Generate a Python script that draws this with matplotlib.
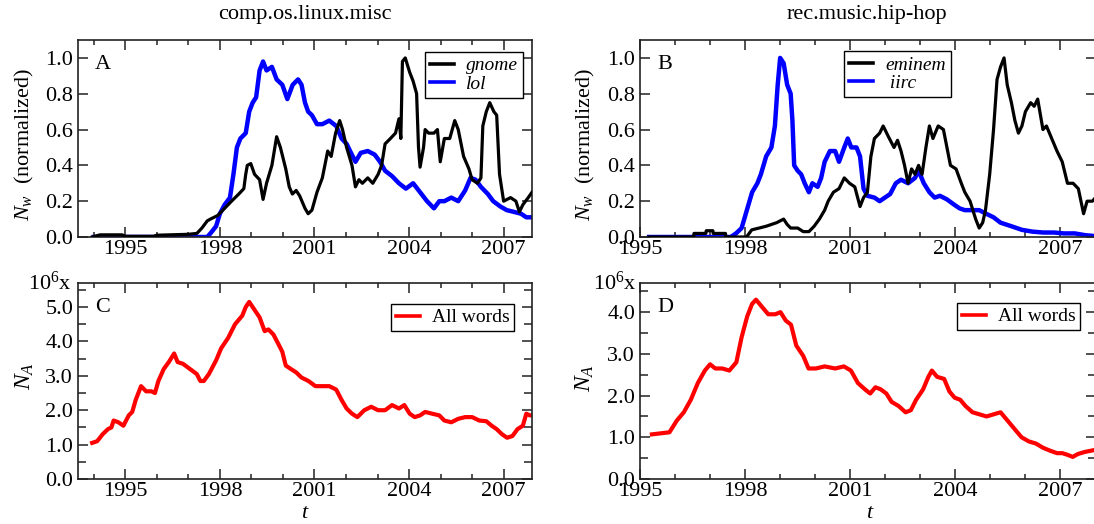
import matplotlib
matplotlib.use("Agg")
import matplotlib.pyplot as plt
from matplotlib.ticker import MultipleLocator, FixedLocator, FormatStrFormatter

plt.rcParams['font.family'] = ['Liberation Serif', 'DejaVu Serif']
plt.rcParams['mathtext.fontset'] = 'custom'
plt.rcParams['mathtext.rm'] = 'Liberation Serif'
plt.rcParams['mathtext.it'] = 'Liberation Serif:italic'

# ---------------- data ----------------
gnome_t = [1993.95, 1994.2, 1994.9, 1995.0, 1995.9, 1996.0, 1997.0, 1997.27, 1997.43, 1997.6, 1997.7,
           1997.93, 1998.15, 1998.37, 1998.6, 1998.76, 1998.82, 1998.87, 1998.98, 1999.1, 1999.26,
           1999.37, 1999.48, 1999.65, 1999.8, 1999.92, 2000.09, 2000.2, 2000.3, 2000.42, 2000.53,
           2000.7, 2000.8, 2000.92, 2001.08, 2001.25, 2001.42, 2001.53, 2001.67, 2001.8, 2001.89,
           2002.02, 2002.19, 2002.3, 2002.41, 2002.52, 2002.69, 2002.85, 2003.02, 2003.13, 2003.24,
           2003.41, 2003.57, 2003.68, 2003.74, 2003.79, 2003.88, 2004.02, 2004.13, 2004.24, 2004.3,
           2004.35, 2004.46, 2004.51, 2004.62, 2004.79, 2004.9, 2004.99, 2005.12, 2005.29, 2005.45,
           2005.56, 2005.73, 2005.9, 2006.0, 2006.17, 2006.28, 2006.34, 2006.45, 2006.56, 2006.69,
           2006.78, 2006.87, 2007.0, 2007.22, 2007.39, 2007.5, 2007.61, 2007.78, 2007.9]
gnome_v = [0.0, 0.012, 0.012, 0.004, 0.004, 0.01, 0.015, 0.02, 0.05, 0.09, 0.10,
           0.12, 0.16, 0.20, 0.24, 0.27, 0.35, 0.40, 0.41, 0.35, 0.32,
           0.21, 0.30, 0.40, 0.56, 0.50, 0.38, 0.28, 0.24, 0.26, 0.23,
           0.16, 0.13, 0.15, 0.25, 0.33, 0.48, 0.45, 0.58, 0.65, 0.60,
           0.50, 0.40, 0.28, 0.32, 0.30, 0.33, 0.30, 0.35, 0.40, 0.52,
           0.55, 0.58, 0.66, 0.55, 0.98, 1.00, 0.92, 0.87, 0.80, 0.50,
           0.39, 0.50, 0.60, 0.58, 0.58, 0.60, 0.42, 0.55, 0.55, 0.65,
           0.60, 0.45, 0.38, 0.32, 0.30, 0.33, 0.62, 0.70, 0.75, 0.70,
           0.68, 0.35, 0.20, 0.22, 0.20, 0.14, 0.18, 0.22, 0.25]

lol_t = [1994.0, 1997.6, 1997.7, 1997.88, 1998.0, 1998.15, 1998.32, 1998.43, 1998.54, 1998.65,
         1998.82, 1998.93, 1999.04, 1999.15, 1999.26, 1999.37, 1999.48, 1999.65, 1999.8, 1999.98,
         2000.14, 2000.31, 2000.48, 2000.59, 2000.7, 2000.8, 2000.92, 2001.08, 2001.25, 2001.47,
         2001.69, 2001.86, 2002.02, 2002.13, 2002.3, 2002.47, 2002.69, 2002.91, 2003.08, 2003.24,
         2003.46, 2003.68, 2003.9, 2004.13, 2004.35, 2004.57, 2004.79, 2004.96, 2005.12, 2005.34,
         2005.56, 2005.78, 2005.95, 2006.11, 2006.28, 2006.5, 2006.67, 2006.9, 2007.1, 2007.33,
         2007.55, 2007.72, 2007.9]
lol_v = [0.0, 0.0, 0.02, 0.06, 0.13, 0.18, 0.22, 0.35, 0.50, 0.55,
         0.58, 0.70, 0.75, 0.78, 0.93, 0.98, 0.93, 0.95, 0.88, 0.85,
         0.77, 0.85, 0.88, 0.85, 0.75, 0.70, 0.68, 0.63, 0.63, 0.65,
         0.62, 0.55, 0.52, 0.48, 0.42, 0.47, 0.48, 0.46, 0.42, 0.37,
         0.34, 0.30, 0.27, 0.30, 0.25, 0.20, 0.16, 0.20, 0.20, 0.22,
         0.20, 0.26, 0.33, 0.32, 0.28, 0.24, 0.20, 0.17, 0.15, 0.14,
         0.13, 0.11, 0.11]

eminem_t = [1995.26, 1996.53, 1996.54, 1996.88, 1996.89, 1997.08, 1997.09, 1997.44, 1997.45, 1998.04,
            1998.19, 1998.4, 1998.6, 1998.75, 1998.9, 1999.1, 1999.2, 1999.3, 1999.5, 1999.66,
            1999.82, 1999.97, 2000.12, 2000.27, 2000.37, 2000.52, 2000.68, 2000.83, 2000.98, 2001.13,
            2001.28, 2001.38, 2001.49, 2001.59, 2001.69, 2001.84, 2001.94, 2002.09, 2002.25, 2002.35,
            2002.45, 2002.55, 2002.65, 2002.75, 2002.85, 2002.95, 2003.05, 2003.16, 2003.26, 2003.36,
            2003.51, 2003.66, 2003.76, 2003.86, 2004.02, 2004.17, 2004.27, 2004.42, 2004.58, 2004.68,
            2004.78, 2004.86, 2004.98, 2005.09, 2005.19, 2005.29, 2005.39, 2005.48, 2005.6, 2005.7,
            2005.8, 2005.9, 2006.0, 2006.15, 2006.25, 2006.35, 2006.5, 2006.6, 2006.75, 2006.9,
            2007.05, 2007.2, 2007.36, 2007.51, 2007.66, 2007.76, 2007.91, 2008.0]
eminem_v = [0.0, 0.0, 0.02, 0.02, 0.035, 0.035, 0.02, 0.02, 0.0, 0.0,
            0.04, 0.05, 0.06, 0.07, 0.08, 0.10, 0.07, 0.05, 0.05, 0.03,
            0.03, 0.06, 0.10, 0.15, 0.20, 0.25, 0.27, 0.33, 0.30, 0.28,
            0.17, 0.22, 0.25, 0.45, 0.55, 0.58, 0.62, 0.56, 0.50, 0.54,
            0.48, 0.40, 0.30, 0.38, 0.35, 0.40, 0.35, 0.50, 0.62, 0.55,
            0.62, 0.60, 0.50, 0.40, 0.38, 0.30, 0.25, 0.20, 0.10, 0.05,
            0.08, 0.15, 0.35, 0.60, 0.88, 0.95, 1.00, 0.85, 0.75, 0.65,
            0.58, 0.62, 0.70, 0.75, 0.73, 0.77, 0.60, 0.62, 0.55, 0.48,
            0.42, 0.30, 0.30, 0.27, 0.13, 0.20, 0.20, 0.22]

iirc_t = [1995.26, 1997.59, 1997.74, 1997.9, 1998.05, 1998.2, 1998.35, 1998.45, 1998.6, 1998.75,
          1998.85, 1998.93, 1999.0, 1999.1, 1999.2, 1999.3, 1999.35, 1999.4, 1999.5, 1999.6,
          1999.7, 1999.82, 1999.92, 2000.07, 2000.17, 2000.27, 2000.42, 2000.57, 2000.68, 2000.83,
          2000.93, 2001.03, 2001.18, 2001.28, 2001.38, 2001.49, 2001.69, 2001.84, 2001.99, 2002.14,
          2002.3, 2002.45, 2002.65, 2002.85, 2002.95, 2003.1, 2003.26, 2003.41, 2003.56, 2003.76,
          2003.97, 2004.12, 2004.27, 2004.47, 2004.68, 2004.88, 2005.09, 2005.29, 2005.6, 2005.9,
          2006.2, 2006.51, 2006.81, 2007.1, 2007.41, 2007.71, 2008.0]
iirc_v = [0.0, 0.0, 0.02, 0.05, 0.15, 0.25, 0.30, 0.35, 0.45, 0.50,
          0.62, 0.85, 1.00, 0.97, 0.85, 0.80, 0.65, 0.40, 0.37, 0.35,
          0.30, 0.25, 0.30, 0.28, 0.33, 0.42, 0.48, 0.48, 0.42, 0.50,
          0.55, 0.50, 0.50, 0.45, 0.27, 0.23, 0.22, 0.20, 0.22, 0.24,
          0.30, 0.32, 0.30, 0.33, 0.37, 0.30, 0.25, 0.22, 0.23, 0.21,
          0.18, 0.16, 0.15, 0.15, 0.15, 0.13, 0.11, 0.08, 0.06, 0.04,
          0.03, 0.025, 0.025, 0.02, 0.02, 0.01, 0.005]

allC_t = [1993.95, 1994.11, 1994.28, 1994.45, 1994.56, 1994.63, 1994.78, 1994.94, 1995.11, 1995.22,
          1995.33, 1995.5, 1995.66, 1995.83, 1995.94, 1996.05, 1996.22, 1996.38, 1996.55, 1996.66,
          1996.83, 1997.05, 1997.27, 1997.38, 1997.49, 1997.65, 1997.88, 1998.04, 1998.26, 1998.48,
          1998.71, 1998.82, 1998.93, 1999.04, 1999.26, 1999.42, 1999.54, 1999.7, 1999.87, 1999.98,
          2000.09, 2000.25, 2000.42, 2000.59, 2000.81, 2001.03, 2001.25, 2001.47, 2001.69, 2001.86,
          2002.02, 2002.19, 2002.36, 2002.58, 2002.8, 2003.02, 2003.24, 2003.46, 2003.68, 2003.85,
          2004.02, 2004.18, 2004.35, 2004.51, 2004.73, 2004.96, 2005.12, 2005.34, 2005.56, 2005.78,
          2006.0, 2006.23, 2006.45, 2006.62, 2006.78, 2006.95, 2007.11, 2007.28, 2007.44, 2007.61,
          2007.72, 2007.83, 2007.9]
allC_v = [1.05, 1.10, 1.30, 1.45, 1.50, 1.70, 1.65, 1.55, 1.85, 1.95,
          2.30, 2.70, 2.55, 2.55, 2.50, 2.85, 3.20, 3.40, 3.65, 3.40,
          3.35, 3.20, 3.05, 2.85, 2.85, 3.05, 3.45, 3.80, 4.10, 4.50,
          4.75, 5.00, 5.15, 5.00, 4.70, 4.30, 4.35, 4.20, 3.90, 3.70,
          3.30, 3.20, 3.10, 2.95, 2.85, 2.70, 2.70, 2.70, 2.60, 2.30,
          2.05, 1.90, 1.80, 2.00, 2.10, 2.00, 2.00, 2.15, 2.05, 2.15,
          1.90, 1.80, 1.85, 1.95, 1.90, 1.85, 1.70, 1.65, 1.75, 1.80,
          1.80, 1.70, 1.68, 1.55, 1.45, 1.30, 1.20, 1.25, 1.45, 1.55,
          1.90, 1.85, 1.85]

allD_t = [1995.34, 1995.64, 1995.84, 1996.05, 1996.25, 1996.45, 1996.65, 1996.85, 1997.0, 1997.15,
          1997.35, 1997.55, 1997.75, 1997.9, 1998.06, 1998.2, 1998.31, 1998.46, 1998.66, 1998.86,
          1999.01, 1999.16, 1999.31, 1999.46, 1999.66, 1999.81, 2000.02, 2000.27, 2000.57, 2000.82,
          2001.02, 2001.22, 2001.42, 2001.57, 2001.72, 2001.87, 2002.03, 2002.18, 2002.38, 2002.58,
          2002.73, 2002.88, 2003.08, 2003.23, 2003.33, 2003.48, 2003.68, 2003.83, 2003.98, 2004.14,
          2004.29, 2004.49, 2004.69, 2004.89, 2005.09, 2005.29, 2005.49, 2005.69, 2005.89, 2006.1,
          2006.3, 2006.5, 2006.7, 2006.9, 2007.05, 2007.2, 2007.35, 2007.5, 2007.7, 2008.0]
allD_v = [1.07, 1.10, 1.12, 1.40, 1.60, 1.90, 2.30, 2.60, 2.75, 2.65,
          2.65, 2.60, 2.80, 3.40, 3.90, 4.20, 4.30, 4.15, 3.95, 3.95,
          4.00, 3.80, 3.70, 3.20, 2.95, 2.65, 2.65, 2.70, 2.65, 2.70,
          2.60, 2.30, 2.15, 2.05, 2.20, 2.15, 2.05, 1.85, 1.75, 1.60,
          1.65, 1.90, 2.15, 2.45, 2.60, 2.45, 2.40, 2.10, 1.95, 1.90,
          1.75, 1.60, 1.55, 1.50, 1.55, 1.60, 1.40, 1.20, 1.00, 0.90,
          0.85, 0.75, 0.68, 0.62, 0.62, 0.58, 0.53, 0.60, 0.65, 0.70]

year_ticks = [1995, 1998, 2001, 2004, 2007]
titles = ['comp.os.linux.misc', 'rec.music.hip-hop']
panel_letters = ['A', 'B', 'C', 'D']

# ---------------- layout ----------------
W, H = 1094, 524
fig = plt.figure(figsize=(W / 100, H / 100), dpi=100)

def px_axes(l, r, t, b):
    return fig.add_axes([l / W, 1 - b / H, (r - l) / W, (b - t) / H])

axA = px_axes(78, 532, 40, 237)
axB = px_axes(640, 1095.5, 40, 237)
axC = px_axes(78, 532, 283, 479)
axD = px_axes(640, 1095.5, 283, 479)

TICK_FS = 16

def style(ax, xlim, ylim, ymajor, yminor, yfmt):
    ax.set_xlim(*xlim)
    ax.set_ylim(*ylim)
    ax.xaxis.set_major_locator(FixedLocator(year_ticks))
    ax.xaxis.set_minor_locator(MultipleLocator(1))
    ax.yaxis.set_major_locator(MultipleLocator(ymajor))
    if yminor:
        ax.yaxis.set_minor_locator(MultipleLocator(yminor))
    ax.yaxis.set_major_formatter(FormatStrFormatter(yfmt))
    ax.tick_params(which='both', direction='in', top=True, right=True,
                   labelsize=TICK_FS, width=1.1, color='#222222')
    ax.tick_params(which='major', length=7.2)
    ax.tick_params(which='minor', length=3.8)
    if yminor:
        ax.tick_params(axis='y', which='minor', length=5.5)
    ax.tick_params(axis='x', which='major', pad=2)
    ax.tick_params(axis='y', which='major', pad=3.5)
    for s in ax.spines.values():
        s.set_linewidth(1.2)
        s.set_color('#222222')

style(axA, (1993.5, 2007.9), (0, 1.1), 0.2, None, '%.1f')
style(axB, (1995, 2008), (0, 1.1), 0.2, None, '%.1f')
style(axC, (1993.5, 2007.9), (0, 5.7), 1.0, 0.5, '%.1f')
style(axD, (1995, 2008), (0, 4.7), 1.0, 0.5, '%.1f')

# ---------------- data lines ----------------
axA.plot(gnome_t, gnome_v, color='black', lw=2.3, label='gnome', zorder=3)
axA.plot(lol_t, lol_v, color='#0000ff', lw=3.2, label='lol', zorder=2)
axB.plot(eminem_t, eminem_v, color='black', lw=2.3, label='eminem', zorder=3)
axB.plot(iirc_t, iirc_v, color='#0000ff', lw=3.2, label=' iirc', zorder=2)
axC.plot(allC_t, allC_v, color='#ff0000', lw=3.0, label='All words')
axD.plot(allD_t, allD_v, color='#ff0000', lw=3.0, label='All words')

# ---------------- legends ----------------
def legend(ax, anchor, italic):
    leg = ax.legend(loc='upper right', bbox_to_anchor=anchor, borderaxespad=0,
                    fancybox=False, framealpha=1, edgecolor='black',
                    prop={'family': 'Liberation Serif', 'size': 14,
                          'style': 'italic' if italic else 'normal'},
                    handlelength=1.25, handletextpad=0.6, borderpad=0.25,
                    labelspacing=0.05)
    leg.get_frame().set_linewidth(1.0)
    for ln in leg.get_lines():
        ln.set_linewidth(2.6)
    return leg

legend(axA, (0.980, 0.939), True)
legend(axB, (0.682, 0.944), True)
legend(axC, (0.961, 0.893), False)
legend(axD, (0.967, 0.898), False)

# ---------------- panel letters ----------------
for ax, letter in zip([axA, axB, axC, axD], panel_letters):
    ax.text(0.038, 0.925, letter, transform=ax.transAxes, fontsize=16,
            ha='left', va='top')

# ---------------- titles / labels ----------------
def ftext(x, y, s, **kw):
    fig.text(x / W, 1 - y / H, s, **kw)

ftext(305, 15, titles[0], fontsize=16, ha='center', va='center')
ftext(867, 15, titles[1], fontsize=16, ha='center', va='center')

ftext(24, 144, r'$N_w$  (normalized)', fontsize=16, rotation=90, ha='center', va='center')
ftext(585, 144, r'$N_w$  (normalized)', fontsize=16, rotation=90, ha='center', va='center')
ftext(25, 376, r'$N_A$', fontsize=17, rotation=90, ha='center', va='center')
ftext(585, 378, r'$N_A$', fontsize=17, rotation=90, ha='center', va='center')

ftext(305, 518.5, r'$t$', fontsize=16, ha='center', va='baseline')
ftext(870, 518.5, r'$t$', fontsize=16, ha='center', va='baseline')

ftext(72, 290, r'10$^{6}$x', fontsize=16, ha='right', va='baseline')
ftext(637, 290, r'10$^{6}$x', fontsize=16, ha='right', va='baseline')

fig.savefig('out.png', dpi=100)
